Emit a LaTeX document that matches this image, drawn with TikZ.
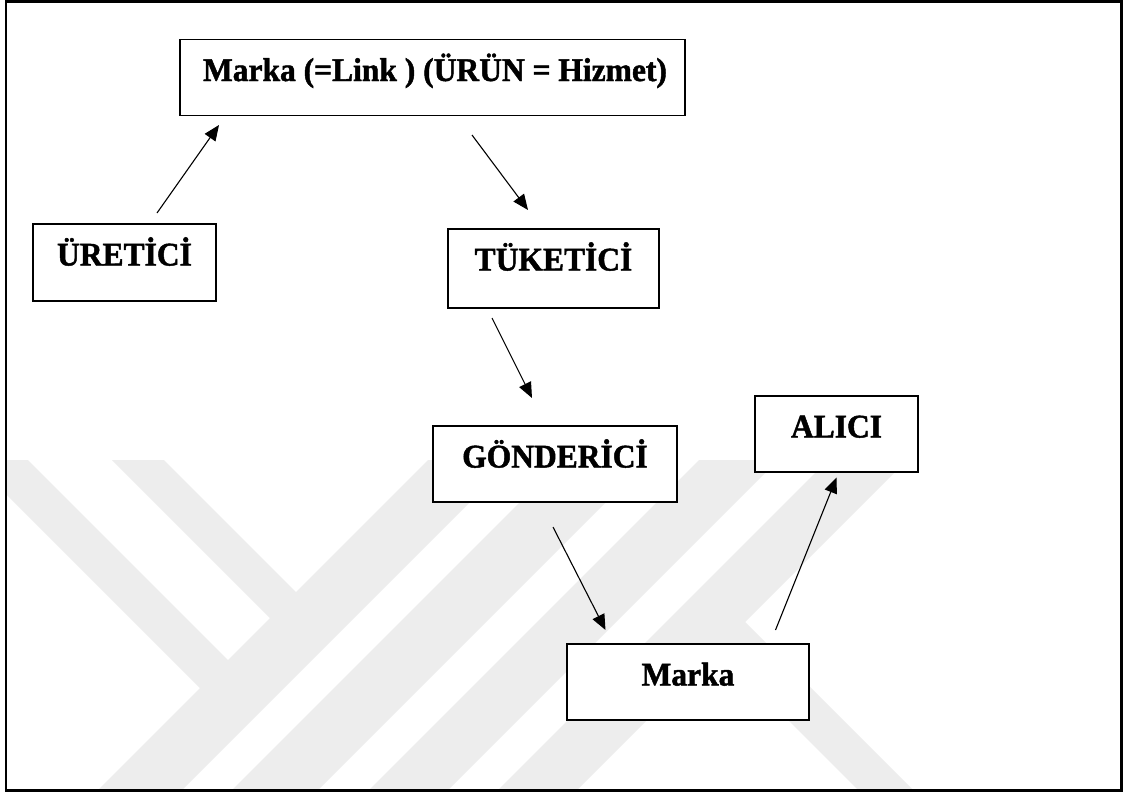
\documentclass[tikz,border=0pt]{standalone}
\usepackage{fontspec}
\setmainfont[BoldFeatures={FakeBold=1.4,FakeStretch=0.955}]{Liberation Serif}
\usetikzlibrary{arrows.meta}

\begin{document}
\begin{tikzpicture}[x=1pt,y=-1pt,
  box/.style={draw, line width=1.6pt, rectangle, fill=white,
    inner xsep=0pt, inner ysep=0pt, outer sep=0pt,
    text height=41.5pt, anchor=base,
    font=\fontsize{33}{38}\selectfont\bfseries},
  arr/.style={line width=1.1pt, -{Triangle[length=15.5pt,width=13pt]}},
  wm/.style={fill=black!7, draw=none}]
\useasboundingbox (0,0) rectangle (1125,795);
\fill[white] (0,0) rectangle (1125,795);

% faint background stripes
\begin{scope}
  \clip (7,460) rectangle (1120,790);
  \fill[wm] (28,460) -- (229,661) -- (201,689) -- (-28,460) -- cycle;
  \fill[wm] (164,460) -- (297,593) -- (271,619) -- (112,460) -- cycle;
  \fill[wm] (428,460) -- (512,460) -- (180,792) -- (96,792) -- cycle;
  \fill[wm] (562,460) -- (648,460) -- (316,792) -- (230,792) -- cycle;
  \fill[wm] (699,460) -- (778,460) -- (446,792) -- (367,792) -- cycle;
  \fill[wm] (828,460) -- (907,460) -- (575,792) -- (496,792) -- cycle;
  \fill[wm] (733,610) -- (915,792) -- (860,792) -- (705,637) -- cycle;
\end{scope}

% outer frame
\draw[line width=2.6pt] (6,1.5) rectangle (1121.5,790.5);

% boxes
\node[box, minimum width=505pt, text depth=34.5pt] (top) at (432.5,81) {\hspace*{5pt}Marka (=Link ) (ÜRÜN = Hizmet)};
\node[box, minimum width=183pt, text depth=35.5pt] (ure) at (124.5,265.5) {ÜRETİCİ};
\node[box, minimum width=211pt, text depth=37.5pt] (tuk) at (553.5,270.5) {TÜKETİCİ};
\node[box, minimum width=244pt, text depth=34.5pt] (gon) at (555,467.5) {GÖNDERİCİ};
\node[box, minimum width=163pt, text depth=34.5pt] (alici) at (836.5,437.5) {ALICI};
\node[box, minimum width=242pt, text depth=34.5pt] (mk) at (688,685.5) {Marka};

% arrows
\draw[arr] ([shift={(32.5pt,11pt)}]ure.north) -- ([shift={(-213.5pt,-9.5pt)}]top.south);
\draw[arr] ([shift={(39.5pt,-19.5pt)}]top.south) -- ([shift={(-25.5pt,19pt)}]tuk.north);
\draw[arr] ([shift={(-61.5pt,-10pt)}]tuk.south) -- ([shift={(-23pt,28pt)}]gon.north);
\draw[arr] ([shift={(-2pt,-25pt)}]gon.south) -- ([shift={(-82.5pt,14pt)}]mk.north);
\draw[arr] ([shift={(87.5pt,14pt)}]mk.north) -- ([shift={(0pt,-5.5pt)}]alici.south);
\end{tikzpicture}
\end{document}
